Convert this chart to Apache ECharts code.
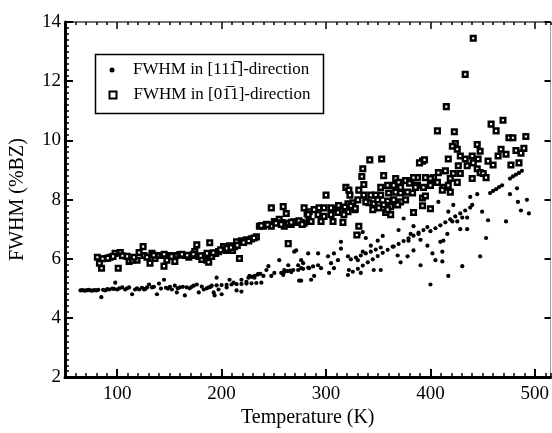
<!DOCTYPE html>
<html><head><meta charset="utf-8">
<script src="https://cdn.jsdelivr.net/npm/echarts@6/dist/echarts.min.js"></script>
<style>html,body{margin:0;padding:0;background:#fff}#c{width:552px;height:433px}</style>
</head><body><div id="c"></div>
<script>
const xTicks = [100, 200, 300, 400, 500];
const yTicks = [2, 4, 6, 8, 10, 12, 14];
const seriesNames = ['FWHM in [11\u0031\u0305]-direction', 'FWHM in [0\u0031\u03051]-direction'];

// [Temperature (K), FWHM (%BZ)] — dots, [11-1] direction
const fwhm111 = [
[64.8,4.93],[66.7,4.94],[68.6,4.92],[70.5,4.93],[72.4,4.95],[74.3,4.93],[76.2,4.92],[78.1,4.94],[80.0,4.93],[81.9,4.95],
[84.8,4.70],[88.6,4.93],[92.4,4.96],[95.2,4.99],[98.1,5.19],[100.0,4.96],[104.8,5.03],[107.6,4.96],[111.4,5.03],[114.3,4.80],
[117.1,4.96],[121.0,4.96],[125.7,4.96],[128.6,5.03],[130.5,5.13],[133.3,5.03],[138.1,4.80],[140.0,5.16],[141.9,4.99],[144.8,5.29],
[148.6,4.99],[152.4,4.96],[155.2,5.09],[157.1,4.86],[160.0,5.03],[164.8,4.76],[166.7,5.03],[173.3,5.09],[176.2,5.13],[178.1,4.86],
[181.0,5.06],[182.9,4.96],[187.6,5.03],[192.4,4.86],[193.3,4.76],[195.2,5.36],[197.1,4.96],
[86.5,4.95],[90.5,4.97],[97.0,4.98],[102.0,5.00],[109.5,5.00],[119.0,5.00],[123.8,5.02],[127.0,4.98],[135.2,5.05],[146.7,5.02],
[150.5,5.05],[158.0,5.00],[162.9,5.05],[169.5,5.00],[171.4,5.05],[185.7,5.00],[189.5,5.05],
[190.5,5.09],[195.2,5.10],[200.0,5.11],[204.8,5.12],[209.5,5.13],[214.3,5.14],[219.0,5.15],[223.8,5.16],[228.6,5.17],[233.3,5.18],[238.1,5.19],
[200.0,4.80],[204.8,5.03],[207.6,5.29],[211.4,5.19],[214.3,4.93],[219.0,4.89],[219.0,5.29],[223.8,5.22],[226.7,5.42],[231.4,5.36],
[235.2,5.49],[240.0,5.42],[242.9,5.62],[244.8,5.75],[247.6,5.42],[250.5,5.52],[255.2,5.95],[257.1,5.52],[260.0,5.62],[269.5,6.24],
[273.3,5.78],[274.3,5.26],[278.1,5.85],[282.9,6.18],[283.8,5.68],
[225.7,5.36],[228.6,5.39],[231.4,5.42],[234.3,5.46],[237.1,5.49],
[260.0,5.55],[262.9,5.58],[265.7,5.60],[268.6,5.62],
[400.0,5.13],[417.1,5.42],[430.5,5.75],[447.6,6.08],[453.3,6.70],[472.4,7.26],[492.4,7.99],[494.3,7.53],[486.7,7.63],[482.9,8.38],
[476.2,8.18],[483.8,7.92],
[476.2,8.71],[479.0,8.78],[481.9,8.84],[484.8,8.90],[487.6,8.97],
[457.1,8.22],[460.0,8.29],[462.9,8.35],[465.7,8.42],[468.6,8.48],
[455.2,7.30],[449.5,7.59],[444.8,8.18],[440.0,7.82],[435.2,7.39],[430.5,7.39],[425.7,7.26],[435.2,7.00],[428.6,7.00],[421.0,7.26],
[417.1,7.59],[421.9,7.82],[438.1,8.09],
[400.0,6.93],[404.8,7.03],[409.5,7.13],[414.3,7.23],[419.0,7.33],[423.8,7.43],[428.6,7.53],[433.3,7.63],[438.1,7.73],
[407.6,7.92],[416.2,6.84],[412.4,6.61],[409.5,6.57],[411.4,6.24],[411.4,5.91],[404.8,5.95],[401.9,6.18],[397.1,6.44],[390.5,6.64],
[383.8,7.10],[388.6,6.84],[381.0,6.84],[374.3,7.36],[369.5,6.97],[379.0,6.61],
[364.8,6.41],[369.5,6.50],[374.3,6.60],[379.0,6.69],[383.8,6.78],[388.6,6.88],[393.3,6.97],[397.1,7.07],
[390.5,5.78],[383.8,6.28],[378.1,6.08],[371.4,5.88],[368.6,6.11],
[321.0,5.45],[325.7,5.56],[330.5,5.66],[335.2,5.77],[340.0,5.88],[344.8,5.98],[349.5,6.09],[354.3,6.20],[359.0,6.30],[363.8,6.41],
[323.8,5.98],[328.6,6.04],[333.3,6.11],[338.1,6.18],[342.9,6.24],[347.6,6.31],[352.4,6.38],
[354.3,6.77],[349.5,6.61],[342.9,6.44],[335.2,6.24],[331.4,6.84],[335.2,6.90],[338.1,6.70],[330.5,5.95],[345.7,5.62],[352.4,5.62],
[333.3,5.52],[314.3,6.57],[314.3,6.34],[307.6,6.18],[301.9,6.08],[292.4,6.18],[271.4,6.28],[295.2,5.68],[288.6,5.42],[285.7,5.29],
[276.2,5.26],[276.2,5.68],[276.2,5.95],[263.8,5.78],[259.0,5.45],[266.7,5.55],
[273.3,5.62],[278.1,5.66],[282.9,5.70],[287.6,5.74],[292.4,5.78],
[304.8,5.85],[307.6,5.68],[302.9,5.52],[311.4,5.95],[321.0,6.08],[321.9,5.62]
];

// [Temperature (K), FWHM (%BZ)] — open squares, [0-11] direction
const fwhm011 = [
[81.0,6.05],[83.0,5.85],[85.0,5.68],[88.6,6.01],[93.3,6.05],[98.0,6.18],[103.0,6.21],[101.0,5.68],[109.5,6.08],[111.4,5.91],
[114.3,5.95],[119.0,5.95],[121.0,6.21],[124.8,6.41],[125.7,6.11],[128.6,6.05],[131.4,5.85],[133.3,6.18],[136.2,6.01],[140.0,6.11],
[142.9,6.11],[144.8,5.75],[147.6,5.95],[150.5,6.11],[155.2,5.91],[157.1,6.11],[160.0,6.14],[164.8,6.11],[168.6,6.05],[171.4,6.11],
[174.3,6.24],[176.2,6.47],[178.1,6.08],[181.0,5.98],[183.8,6.11],[185.7,5.95],[187.6,5.88],[188.6,6.54],[190.5,6.08],[194.3,6.18],
[197.1,6.24],[201.9,6.41],[204.8,6.28],[207.6,6.44],[210.5,6.28],[212.4,6.41],[214.3,6.57],[217.1,6.01],[219.0,6.61],[223.8,6.64],
[228.6,6.67],[233.3,6.74],[236.2,7.10],[240.0,7.10],[242.9,7.16],[247.6,7.72],[247.6,7.10],[250.5,7.26],[255.2,7.33],[259.0,7.76],
[260.0,7.10],[261.9,7.53],[263.8,6.51],[266.7,7.16],[271.4,7.23],[276.2,7.23],[279.0,7.72],[281.9,7.53],[283.8,7.26],
[86.0,6.00],[91.0,6.02],[96.0,6.08],[105.0,6.10],[116.0,6.05],[135.0,6.12],[145.0,6.15],[152.0,6.08],[162.0,6.15],[167.0,6.12],
[173.0,6.15],[180.0,6.10],[186.0,6.18],[192.0,6.20],[199.0,6.30],[205.0,6.35],[209.0,6.38],[215.0,6.45],[221.0,6.55],[226.0,6.60],
[231.0,6.70],[238.0,7.12],[244.0,7.15],[252.0,7.20],[258.0,7.22],[264.0,7.20],[269.0,7.25],[274.0,7.28],[279.0,7.20],
[406.7,10.32],[422.9,10.29],[458.1,10.55],[462.9,10.32],[469.5,10.68],[475.2,10.09],[479.0,10.09],[491.4,10.13],[467.6,9.70],[472.4,9.53],
[464.8,9.47],[481.9,9.66],[489.5,9.73],[486.7,9.57],[477.1,9.17],[484.8,9.24],[460.0,9.17],[455.2,9.30],[444.8,9.86],[447.6,9.63],
[445.7,9.37],[441.0,9.24],[440.0,9.47],[433.3,9.37],[428.6,9.47],[425.7,9.70],[423.8,9.89],[421.0,9.80],[417.1,9.37],[426.7,9.14],
[435.2,9.14],[444.8,9.04],[447.6,8.91],[450.5,8.88],[453.3,8.74],[440.0,8.71],[428.6,8.88],[421.9,8.88],[414.3,8.97],[407.6,8.91],
[402.9,8.74],[419.0,8.71],[425.7,8.58],[417.1,8.48],[412.4,8.41],[406.7,8.58],[400.0,8.71],[395.2,8.74],[387.6,8.74],[392.4,9.30],
[394.3,9.34],[389.5,9.24],[419.0,8.25],[411.4,8.32],[400.0,8.48],[393.3,8.41],[387.6,8.48],[381.0,8.64],[376.2,8.64],[366.7,8.71],
[369.5,8.58],[371.4,8.41],[364.8,8.48],[359.0,8.48],[352.4,8.41],[355.2,8.81],[353.3,9.37],[341.9,9.34],[335.2,9.04],[334.3,8.78],
[336.2,8.51],[331.4,8.32],[336.2,8.15],[342.9,8.15],[347.6,8.15],[352.4,8.15],[360.0,8.22],[366.7,8.25],[371.4,8.22],[378.1,8.25],
[382.9,8.22],[385.7,8.41],[376.2,7.99],[371.4,7.92],[364.8,7.99],[359.0,7.95],[355.2,7.82],[361.9,7.76],[368.6,7.82],[345.7,7.86],
[341.0,7.89],[338.1,7.92],[344.8,7.66],[350.5,7.72],[357.1,7.56],[361.9,7.49],[359.0,7.66],[349.5,7.99],[330.5,7.99],[325.7,7.89],
[321.0,7.86],[327.6,7.66],[319.0,8.41],[321.9,8.32],[322.9,8.15],[300.0,8.15],[321.0,7.59],[314.3,7.66],[309.5,7.69],[304.8,7.72],
[298.1,7.72],[293.3,7.72],[288.6,7.66],[283.8,7.59],[282.9,7.49],[292.4,7.49],[298.1,7.43],[304.8,7.49],[311.4,7.56],[317.1,7.49],
[306.7,7.26],[316.2,7.23],[295.2,7.26],[285.7,7.26],[277.1,7.16],[266.7,7.23],[257.1,7.16],[331.4,7.10],[329.5,6.80],[383.8,7.56],
[392.4,8.05],[392.4,7.79],[395.2,8.12],[400.0,7.69],[383.8,8.74],[380.0,8.55],
[441.0,13.45],[433.3,12.23],[415.2,11.14],
[312.0,7.80],[318.0,7.75],[324.0,7.78],[328.0,7.70]
];

const FONT = '"Liberation Serif", "Times New Roman", serif';
const X_MIN = 50, X_MAX = 515, Y_MIN = 2, Y_MAX = 14;

const chart = echarts.init(document.getElementById('c'), null, {renderer: 'canvas'});
const blank = {show: false};
chart.setOption({
  animation: false,
  backgroundColor: '#fff',
  grid: {left: 62, right: 1, top: 22, bottom: 46},
  legend: [
    {data: [seriesNames[0]], left: 109.5, top: 61.5, padding: 0, itemWidth: 5, itemHeight: 5, icon: 'circle',
     textStyle: {fontFamily: FONT, fontSize: 17, color: '#000', padding: [0, 0, 0, 13.5]}},
    {data: [seriesNames[1]], left: 108.5, top: 86.5, padding: 0, itemWidth: 7, itemHeight: 7,
     textStyle: {fontFamily: FONT, fontSize: 17, color: '#000', padding: [0, 0, 0, 12]}}
  ],
  graphic: [{type: 'rect', left: 93, top: 52, shape: {width: 228, height: 59},
             style: {fill: 'none', stroke: '#000', lineWidth: 1.5}, silent: true}],
  xAxis: [
    {type: 'value', min: X_MIN, max: X_MAX, position: 'bottom',
     axisLine: {lineStyle: {color: '#000', width: 3}},
     axisTick: {customValues: xTicks, inside: true, length: 8, lineStyle: {color: '#000', width: 2}},
     axisLabel: {customValues: xTicks, fontFamily: FONT, fontSize: 19, color: '#000', margin: 7},
     splitLine: blank,
     name: 'Temperature (K)', nameLocation: 'middle', nameGap: 25,
     nameTextStyle: {fontFamily: FONT, fontSize: 20, color: '#000'}},
    {type: 'value', min: X_MIN, max: X_MAX, interval: 10, position: 'bottom', offset: 0,
     axisLine: blank, axisLabel: blank, splitLine: blank,
     axisTick: {inside: true, length: 4, lineStyle: {color: '#000', width: 1.5}}},
    {type: 'value', min: X_MIN, max: X_MAX, interval: 10, position: 'top', offset: 0,
     axisLine: {lineStyle: {color: '#444', width: 1.5}}, axisLabel: blank, splitLine: blank,
     axisTick: {inside: true, length: 3, lineStyle: {color: '#000', width: 1.5}}},
    {type: 'value', min: X_MIN, max: X_MAX, position: 'top', offset: 0,
     axisLine: blank, axisLabel: {show: false, customValues: xTicks}, splitLine: blank,
     axisTick: {customValues: xTicks, inside: true, length: 7, lineStyle: {color: '#000', width: 1.5}}}
  ],
  yAxis: [
    {type: 'value', min: Y_MIN, max: Y_MAX, interval: 2, position: 'left',
     axisLine: {lineStyle: {color: '#000', width: 3}},
     axisTick: {inside: true, length: 8, lineStyle: {color: '#000', width: 2}},
     minorTick: {show: true, splitNumber: 10, length: 4, lineStyle: {color: '#000', width: 1.5}},
     axisLabel: {fontFamily: FONT, fontSize: 19, color: '#000', margin: 4},
     splitLine: blank, minorSplitLine: blank,
     name: 'FWHM (%BZ)', nameLocation: 'middle', nameGap: 37, nameRotate: 90,
     nameTextStyle: {fontFamily: FONT, fontSize: 20, color: '#000'}},
    {type: 'value', min: Y_MIN, max: Y_MAX, interval: 2, position: 'right', offset: 0,
     axisLine: {lineStyle: {color: '#888', width: 1, type: 'dotted'}},
     axisTick: {inside: true, length: 6, lineStyle: {color: '#000', width: 2}},
     axisLabel: blank, splitLine: blank}
  ],
  series: [
    {name: seriesNames[0], type: 'scatter', xAxisIndex: 0, yAxisIndex: 0, data: fwhm111,
     symbol: 'circle', symbolSize: 4.2, itemStyle: {color: '#000', opacity: 1}},
    {name: seriesNames[1], type: 'scatter', xAxisIndex: 0, yAxisIndex: 0, data: fwhm011,
     symbol: 'rect', symbolSize: 4.6, itemStyle: {color: '#fff', borderColor: '#000', borderWidth: 2.5, opacity: 1}}
  ]
});
</script>
</body></html>
